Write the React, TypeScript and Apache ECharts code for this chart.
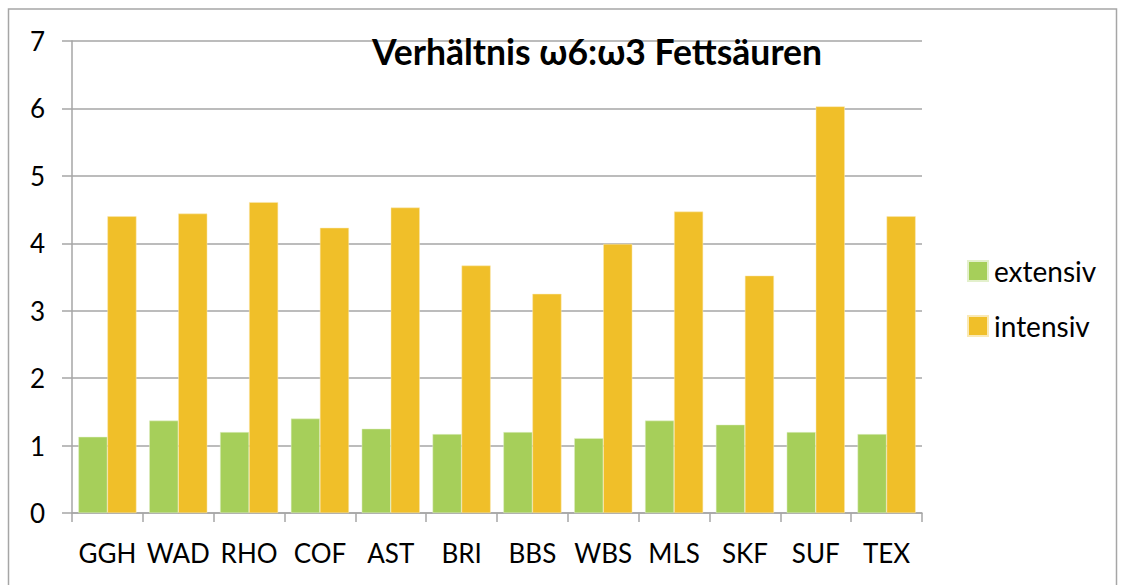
import React, { useEffect, useRef } from "react";
import * as echarts from "echarts";

const categories = ["GGH", "WAD", "RHO", "COF", "AST", "BRI", "BBS", "WBS", "MLS", "SKF", "SUF", "TEX"];
const extensiv = [1.13, 1.37, 1.2, 1.4, 1.25, 1.17, 1.2, 1.11, 1.37, 1.31, 1.2, 1.17];
const intensiv = [4.4, 4.44, 4.61, 4.23, 4.53, 3.67, 3.25, 3.99, 4.47, 3.52, 6.03, 4.4];
const yTicks = { min: 0, max: 7, interval: 1 };
const titleText = "Verhältnis ω6:ω3 Fettsäuren";
const seriesNames = ["extensiv", "intensiv"];

const FONT = "Lato, 'Open Sans', sans-serif";
const GRAY = "#a6a6a6";

export default function App() {
  const ref = useRef<HTMLDivElement>(null);
  useEffect(() => {
    if (!ref.current) return;
    const chart = echarts.init(ref.current, undefined, { renderer: "svg" });
    chart.setOption({
      animation: false,
      backgroundColor: "#ffffff",
      title: {
        text: titleText,
        left: 597,
        top: 33,
        textAlign: "center",
        padding: 0,
        textStyle: { fontFamily: FONT, fontWeight: "bold", fontSize: 35.5, color: "#000" },
      },
      legend: {
        orient: "vertical",
        left: 967,
        top: 257,
        padding: 0,
        itemWidth: 20,
        itemHeight: 20,
        itemGap: 27,
        icon: "rect",
        data: seriesNames,
        textStyle: { fontFamily: FONT, fontSize: 28, lineHeight: 28, color: "#000", padding: [0, 0, 0, 1] },
      },
      graphic: [
        {
          type: "rect",
          shape: { x: 8.5, y: 9, width: 1108, height: 600 },
          style: { fill: "none", stroke: GRAY, lineWidth: 1.5 },
          silent: true,
        },
      ],
      grid: { left: 72, right: 199, top: 41, bottom: 72, containLabel: false },
      xAxis: {
        type: "category",
        data: categories,
        axisLine: { show: true, lineStyle: { color: GRAY, width: 1.5 } },
        axisTick: { show: true, length: 9, lineStyle: { color: GRAY, width: 1.5 } },
        axisLabel: { fontFamily: FONT, fontSize: 26, color: "#000", margin: 27, interval: 0 },
      },
      yAxis: {
        type: "value",
        min: yTicks.min,
        max: yTicks.max,
        interval: yTicks.interval,
        axisLine: { show: true, lineStyle: { color: GRAY, width: 1.5 } },
        axisTick: { show: true, length: 10, lineStyle: { color: GRAY, width: 1.5 } },
        splitLine: { show: true, lineStyle: { color: GRAY, width: 1.5 } },
        axisLabel: { fontFamily: FONT, fontSize: 26, color: "#000", margin: 27 },
      },
      series: [
        {
          name: seriesNames[0],
          type: "bar",
          data: extensiv,
          barGap: "0%",
          barCategoryGap: "18%",
          itemStyle: { color: "#a6cf5a", borderColor: "#e3f0cc", borderWidth: 0.5 },
        },
        {
          name: seriesNames[1],
          type: "bar",
          data: intensiv,
          barGap: "0%",
          barCategoryGap: "18%",
          itemStyle: { color: "#f0bf29", borderColor: "#fae9b5", borderWidth: 0.5 },
        },
      ],
    });
    return () => chart.dispose();
  }, []);
  return (
    <div
      ref={ref}
      style={{ position: "absolute", left: 0, top: 0, width: 1121, height: 585 }}
    />
  );
}
